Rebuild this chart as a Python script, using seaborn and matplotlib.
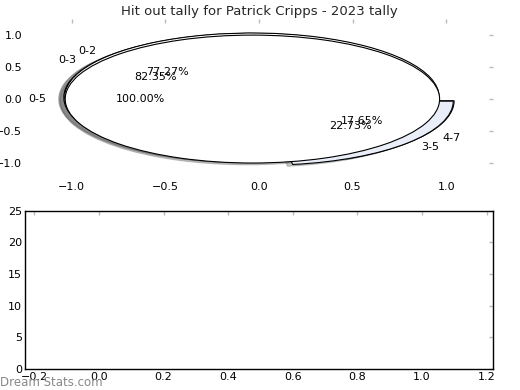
import numpy as np
import pandas as pd
import matplotlib
matplotlib.use("Agg")
import matplotlib.pyplot as plt
import seaborn as sns

sns.set_theme(style="white")
plt.rcParams['font.family'] = ['DejaVu Sans']

# Datos: tres repartos del tally de hit outs
etiquetas_total = ['0-5']
valores_total = [100.00]
etiquetas_a = ['0-3', '4-7']
valores_a = [82.35, 17.65]
etiquetas_b = ['0-2', '3-5']
valores_b = [77.27, 22.73]

colores = ['white', '#e9eef9']
titulo = 'Hit out tally for Patrick Cripps - 2023 tally'

fig = plt.figure(figsize=(5.2, 3.9), dpi=100)
ax1 = fig.add_axes([0.048, 0.541, 0.9, 0.41])
ax2 = fig.add_axes([0.048, 0.054, 0.9, 0.406])

props = dict(edgecolor='black', linewidth=0.8)
txt = dict(fontsize=8, color='black')
sombra = dict(alpha=0.3)

# Los dos repartos primero y el pie del 100% encima
ax1.pie(valores_a, labels=etiquetas_a, colors=colores, explode=[0.05, 0.05],
        autopct='%1.2f%%', shadow=sombra, frame=True, wedgeprops=props, textprops=txt)
ax1.pie(valores_b, labels=etiquetas_b, colors=colores, explode=[0.05, 0.05],
        autopct='%1.2f%%', shadow=sombra, frame=True, wedgeprops=props, textprops=txt)
ax1.pie(valores_total, labels=etiquetas_total, colors=colores[:1], explode=[0.035],
        autopct='%1.2f%%', shadow=sombra, frame=True, wedgeprops=props, textprops=txt)

ax1.set_aspect('auto')
ax1.set_xlim(-1.25, 1.25)
ax1.set_ylim(-1.25, 1.25)
ax1.set_xticks([-1.0, -0.5, 0.0, 0.5, 1.0])
ax1.set_yticks([-1.0, -0.5, 0.0, 0.5, 1.0])
ax1.set_frame_on(False)
ax1.set_title(titulo, fontsize=9.5, pad=3)

# Eje inferior vacío
ax2.set_xlim(-0.229, 1.22)
ax2.set_ylim(0, 25)
ax2.set_xticks([-0.2, 0.0, 0.2, 0.4, 0.6, 0.8, 1.0, 1.2])
ax2.set_yticks([0, 5, 10, 15, 20, 25])
for sp in ax2.spines.values():
    sp.set_color('black')
    sp.set_linewidth(1)

for ax in (ax1, ax2):
    ax.grid(False)
    ax.tick_params(direction='in', length=3, width=1, color='#bbbbbb',
                   top=True, right=True, labelsize=8, pad=2, labelcolor='black')

fig.text(0.0, 0.018, 'Dream Stats.com', fontsize=8.5, color='#888888',
         ha='left', va='center')

fig.savefig('out.png', dpi=100)
